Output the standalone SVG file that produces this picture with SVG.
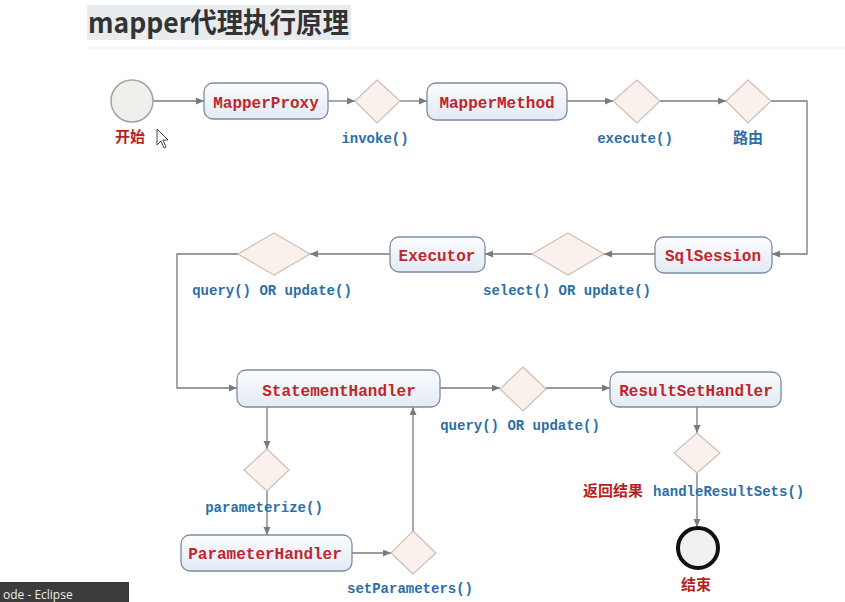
<svg xmlns="http://www.w3.org/2000/svg" width="845" height="602" viewBox="0 0 845 602">
<style>
.node rect{fill:url(#g);stroke:#7d8ba0;stroke-width:1.3}
.node text{font-family:"Liberation Mono",monospace;font-weight:bold;font-size:16px;fill:#c0262a;text-anchor:middle}
.dia polygon{fill:#fbf1ec;stroke:#cdbfb4;stroke-width:1.2}
.lbl{font-family:"Liberation Mono",monospace;font-weight:bold;font-size:14px;fill:#2a6fa6;text-anchor:middle}
.lbl.st{text-anchor:start}
.cn{font-family:"Noto Sans CJK SC",sans-serif;font-weight:bold;font-size:15px}
.red{fill:#b81f22}
.blue{fill:#2a6fa6}
#connectors path{fill:none;stroke:#7a7a7a;stroke-width:1.3;marker-end:url(#arr)}
</style>
<defs>
<linearGradient id="g" x1="0" y1="0" x2="0" y2="1">
<stop offset="0" stop-color="#fbfcfe"/>
<stop offset="1" stop-color="#e2eaf4"/>
</linearGradient>
<marker id="arr" markerUnits="userSpaceOnUse" markerWidth="9" markerHeight="8" refX="8" refY="3.5" orient="auto">
<path d="M0,0 L8,3.5 L0,7 z" fill="#7a7a7a"/>
</marker>
</defs>
<rect width="845" height="602" fill="#ffffff"/>
<g id="title">
<rect x="87" y="5" width="264" height="35" fill="#e8ecef"/>
<text x="88" y="33" font-family="'Noto Sans CJK SC',sans-serif" font-weight="bold" font-size="28" fill="#333333" textLength="261" lengthAdjust="spacingAndGlyphs">mapper代理执行原理</text>
<line x1="87" y1="48" x2="845" y2="48" stroke="#eeeeee" stroke-width="1"/>
</g>
<g id="connectors">
<path d="M153,101 H204"/>
<path d="M328,101 H355"/>
<path d="M400,101 H427"/>
<path d="M567,101 H613"/>
<path d="M660,101 H726"/>
<path d="M771,101 H807 V254 H772"/>
<path d="M655,254 H604"/>
<path d="M532,254 H485"/>
<path d="M390,254 H310"/>
<path d="M238,254 H177 V388 H237"/>
<path d="M440,388 H500"/>
<path d="M546,388 H610"/>
<path d="M697,407 V433"/>
<path d="M697,473 V527"/>
<path d="M267,407 V449"/>
<path d="M267,491 V535"/>
<path d="M352,553 H391"/>
<path d="M413,531 V407"/>
</g>
<g id="start">
<circle cx="132" cy="101" r="21" fill="#f0efeb" stroke="#a3a3a3" stroke-width="1.5"/>
<text x="130" y="142" class="cn red" text-anchor="middle">开始</text>
</g>
<g id="mapperProxy" class="node"><rect x="204" y="83" width="124" height="36" rx="9"/><text x="266" y="108">MapperProxy</text></g>
<g id="invoke" class="dia"><polygon points="377,80 400,101 377,123 355,101"/><text class="lbl" x="375" y="143">invoke()</text></g>
<g id="mapperMethod" class="node"><rect x="427" y="83" width="140" height="37" rx="9"/><text x="497" y="108">MapperMethod</text></g>
<g id="execute" class="dia"><polygon points="637,80 660,101 637,123 613,101"/><text class="lbl" x="635" y="143">execute()</text></g>
<g id="route" class="dia"><polygon points="748,80 771,101 748,123 726,101"/><text class="cn blue" x="748" y="143" text-anchor="middle">路由</text></g>
<g id="sqlSession" class="node"><rect x="655" y="237" width="117" height="36" rx="9"/><text x="713" y="261">SqlSession</text></g>
<g id="select" class="dia"><polygon points="568,233 604,254 568,275 532,254"/><text class="lbl" x="567" y="295">select() OR update()</text></g>
<g id="executor" class="node"><rect x="390" y="237" width="95" height="35" rx="9"/><text x="437" y="261">Executor</text></g>
<g id="query1" class="dia"><polygon points="274,233 310,254 274,275 238,254"/><text class="lbl" x="272" y="295">query() OR update()</text></g>
<g id="statementHandler" class="node"><rect x="237" y="370" width="203" height="37" rx="9"/><text x="339" y="396">StatementHandler</text></g>
<g id="query2" class="dia"><polygon points="523,367 546,389 523,411 500,389"/><text class="lbl" x="520" y="430">query() OR update()</text></g>
<g id="resultSetHandler" class="node"><rect x="610" y="372" width="171" height="35" rx="9"/><text x="696" y="396">ResultSetHandler</text></g>
<g id="handleResultSets" class="dia"><polygon points="697,433 720,453 697,473 674,453"/><text class="cn red" x="583" y="496">返回结果</text><text class="lbl st" x="653" y="496">handleResultSets()</text></g>
<g id="end">
<circle cx="698" cy="548" r="20" fill="#f2f1f0" stroke="#111111" stroke-width="4"/>
<text x="696" y="590" class="cn red" text-anchor="middle">结束</text>
</g>
<g id="parameterize" class="dia"><polygon points="267,449 289,470 267,491 244,470"/><text class="lbl" x="264" y="512">parameterize()</text></g>
<g id="parameterHandler" class="node"><rect x="181" y="535" width="171" height="36" rx="9"/><text x="265" y="559">ParameterHandler</text></g>
<g id="setParameters" class="dia"><polygon points="413,531 436,553 413,574 391,553"/><text class="lbl" x="410" y="593">setParameters()</text></g>
<g id="cursor"><path d="M157,129 V145 L161,141 L164,148 L166,147 L163,140 L168,140 Z" fill="#ffffff" stroke="#444444" stroke-width="1"/></g>
<g id="taskbar">
<rect x="0" y="582" width="129" height="20" fill="#3c3c3c"/>
<text x="3" y="599" font-family="'Open Sans',sans-serif" font-size="12" fill="#eeeeee">ode - Eclipse</text>
</g>
</svg>
